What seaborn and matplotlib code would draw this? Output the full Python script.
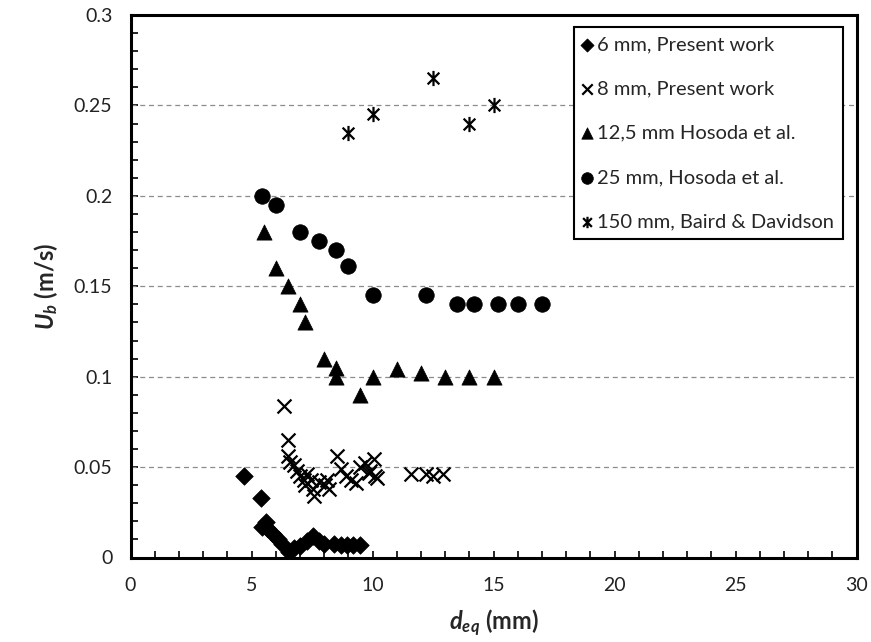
import matplotlib
matplotlib.use("Agg")
import matplotlib.pyplot as plt
import seaborn as sns
import numpy as np
import pandas as pd
from matplotlib.path import Path
from matplotlib.ticker import MultipleLocator

# ---------------- data ----------------
d6_x = [4.7, 5.4, 5.45, 5.6, 5.7, 5.9, 6.1, 6.25, 6.55, 6.75, 7.0, 7.3, 7.55, 7.8, 8.0, 8.4, 8.7, 8.95, 9.2, 9.5]
d6_y = [0.045, 0.033, 0.017, 0.0195, 0.016, 0.013, 0.010, 0.0075, 0.003, 0.005, 0.0066, 0.0094, 0.012, 0.0094, 0.0075, 0.0075, 0.007, 0.007, 0.007, 0.007]

d8_x = [6.35, 6.5, 6.5, 6.6, 6.75, 6.9, 7.0, 7.15, 7.3, 7.2, 7.45, 7.55, 7.6, 7.8, 8.05, 8.2, 8.1,
        8.55, 8.7, 8.9, 9.1, 9.3, 9.5, 9.7, 9.85, 10.05, 10.1, 9.9, 10.2,
        11.6, 12.2, 12.5, 12.9]
d8_y = [0.084, 0.065, 0.056, 0.053, 0.051, 0.048, 0.045, 0.0426, 0.046, 0.040, 0.043, 0.038, 0.034, 0.042, 0.040, 0.038, 0.043,
        0.056, 0.049, 0.045, 0.043, 0.041, 0.050, 0.052, 0.047, 0.0546, 0.045, 0.048, 0.044,
        0.046, 0.046, 0.045, 0.046]

d125_x = [5.5, 6.0, 6.5, 7.0, 7.2, 8.0, 8.5, 8.5, 9.5, 10.0, 11.0, 12.0, 13.0, 14.0, 15.0]
d125_y = [0.18, 0.16, 0.15, 0.14, 0.13, 0.11, 0.105, 0.10, 0.09, 0.10, 0.104, 0.102, 0.10, 0.10, 0.10]

d25_x = [5.45, 6.0, 7.0, 7.8, 8.5, 9.0, 10.0, 12.2, 13.5, 14.2, 15.2, 16.0, 17.0]
d25_y = [0.200, 0.195, 0.180, 0.175, 0.170, 0.161, 0.145, 0.145, 0.140, 0.140, 0.140, 0.140, 0.140]

d150_x = [9.0, 10.0, 12.5, 14.0, 15.0]
d150_y = [0.235, 0.245, 0.265, 0.240, 0.250]

labels = ["6 mm, Present work", "8 mm, Present work", "12,5 mm Hosoda et al.",
          "25 mm, Hosoda et al.", "150 mm, Baird & Davidson"]

# ---------------- style ----------------
sns.set_theme(style="white")
plt.rcParams['font.family'] = ['Lato', 'DejaVu Sans']
plt.rcParams['mathtext.fontset'] = 'custom'
plt.rcParams['mathtext.rm'] = 'Lato'
plt.rcParams['mathtext.it'] = 'Lato:italic'
plt.rcParams['mathtext.bf'] = 'Lato:bold'
plt.rcParams['mathtext.bfit'] = 'Lato:italic:bold'

# asterisk marker: X plus vertical bar
ast = Path([(-1, -1), (1, 1), (-1, 1), (1, -1), (0, -1.3), (0, 1.3)],
           [Path.MOVETO, Path.LINETO, Path.MOVETO, Path.LINETO, Path.MOVETO, Path.LINETO])

fig = plt.figure(figsize=(8.71, 6.42), dpi=100)
ax = fig.add_axes([130.5 / 871, 1 - 557.5 / 642, (856.5 - 130.5) / 871, (557.5 - 15) / 642])

series = [
    (d6_x, d6_y, "D", 80, True),
    (d8_x, d8_y, "x", 100, False),
    (d125_x, d125_y, "^", 120, True),
    (d25_x, d25_y, "o", 125, True),
    (d150_x, d150_y, ast, 120, False),
]
for (xs, ys, mk, s, filled), lab in zip(series, labels):
    df = pd.DataFrame({"x": xs, "y": ys})
    if filled:
        sns.scatterplot(data=df, x="x", y="y", ax=ax, marker=mk, s=s, color="black",
                        edgecolor="black", linewidth=0.5, label=lab, zorder=3)
    else:
        sns.scatterplot(data=df, x="x", y="y", ax=ax, marker=mk, s=s, color="black",
                        edgecolor="black", linewidth=1.6, label=lab, zorder=3)

ax.set_xlim(0, 30)
ax.set_ylim(0, 0.3)
ax.xaxis.set_minor_locator(MultipleLocator(1))
ax.yaxis.set_minor_locator(MultipleLocator(0.01))
ax.set_yticks([0, 0.05, 0.1, 0.15, 0.2, 0.25, 0.3])
ax.set_yticklabels(["0", "0.05", "0.1", "0.15", "0.2", "0.25", "0.3"])
ax.set_xticks([0, 5, 10, 15, 20, 25, 30])
ax.set_xticklabels(["0", "5", "10", "15", "20", "25", "30"])

for gy in [0.05, 0.1, 0.15, 0.2, 0.25]:
    ax.axhline(gy, color="#8c8c8c", linestyle=(0, (4, 3)), linewidth=0.9, zorder=1)

for sp in ax.spines.values():
    sp.set_visible(True)
    sp.set_color("black")
    sp.set_linewidth(2.2)

ax.tick_params(axis="both", which="both", direction="in", color="black", width=1.2,
               labelsize=14, labelcolor="#222222")
ax.tick_params(axis="both", which="both", length=5)
ax.tick_params(axis="y", which="major", pad=13)
ax.tick_params(axis="x", which="major", pad=14)
ax.tick_params(axis="x", which="both", bottom=True, top=False)
ax.tick_params(axis="y", which="both", left=True, right=False)

ax.set_xlabel(r"$\mathbfit{d_{eq}}$ (mm)", fontsize=17, fontweight="bold", labelpad=10)
ax.set_ylabel(r"$\mathbfit{U_b}$ (m/s)", fontsize=17, fontweight="bold", labelpad=10)

leg = ax.legend(loc="upper right", bbox_to_anchor=(0.982, 0.978), frameon=True, fancybox=False,
                edgecolor="black", fontsize=14.5, handlelength=0.4, handletextpad=0.3,
                labelspacing=1.35, borderpad=0.45, borderaxespad=0, markerscale=0.75)
leg.get_frame().set_linewidth(1.5)
leg.get_frame().set_alpha(1)

fig.savefig("out.png", dpi=100)
